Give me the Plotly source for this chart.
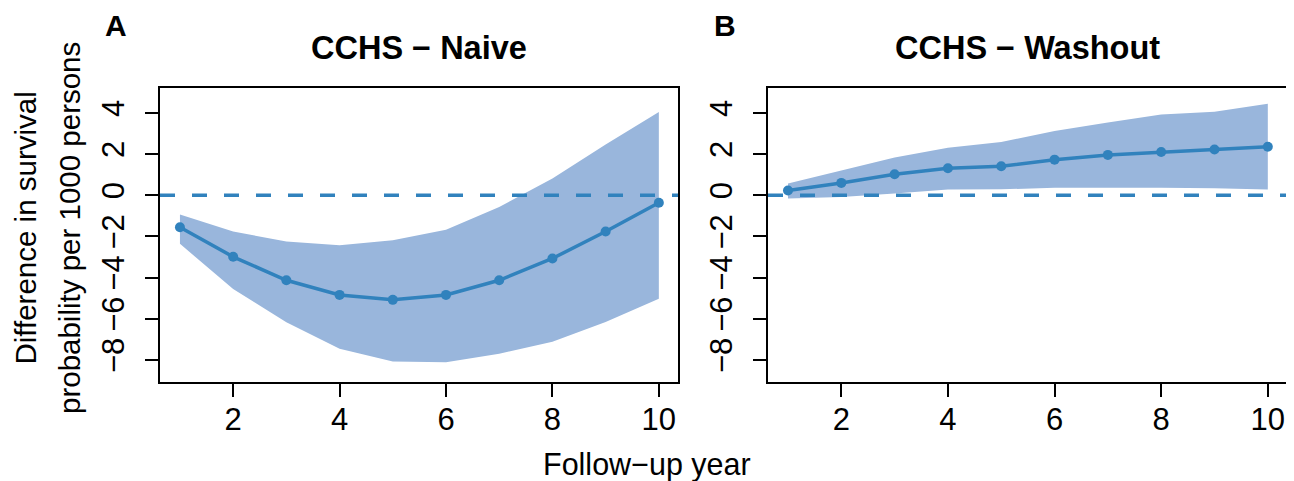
import plotly.graph_objects as go

years = [1, 2, 3, 4, 5, 6, 7, 8, 9, 10]

naive_est = [-1.55, -2.99, -4.13, -4.84, -5.08, -4.84, -4.13, -3.07, -1.76, -0.36]
naive_upper = [-0.94, -1.76, -2.25, -2.43, -2.18, -1.67, -0.57, 0.81, 2.46, 4.05]
naive_lower = [-2.36, -4.55, -6.17, -7.46, -8.07, -8.11, -7.70, -7.12, -6.15, -5.03]

wash_est = [0.23, 0.60, 1.02, 1.31, 1.41, 1.73, 1.96, 2.10, 2.22, 2.36]
wash_upper = [0.57, 1.20, 1.84, 2.31, 2.59, 3.12, 3.54, 3.92, 4.06, 4.45]
wash_lower = [-0.16, -0.08, 0.08, 0.28, 0.29, 0.36, 0.36, 0.36, 0.34, 0.28]

panel_titles = ["CCHS \u2212 Naive", "CCHS \u2212 Washout"]
panel_letters = ["A", "B"]
x_ticks = [2, 4, 6, 8, 10]
y_ticks = [-8, -6, -4, -2, 0, 2, 4]

OFF = 8  # page body margin
W, H = 1294 - OFF, 481 - OFF
LINE = "#3182BD"
BAND = "rgb(153,182,220)"
FONT = "Liberation Sans, Arial, Helvetica, sans-serif"

x_range = [0.625, 10.36]
y_range = [-9.07, 5.21]


def px_x(v):
    return (v - OFF) / W


def px_y(v):
    return 1 - (v - OFF) / H


panels = [
    (naive_est, naive_upper, naive_lower, "x", "y", [160, 678]),
    (wash_est, wash_upper, wash_lower, "x2", "y2", [768, 1287]),
]

fig = go.Figure()
for est, up, lo, xa, ya, px in panels:
    fig.add_trace(go.Scatter(
        x=years + years[::-1], y=up + lo[::-1], fill="toself", mode="none",
        fillcolor=BAND, xaxis=xa, yaxis=ya, showlegend=False, hoverinfo="skip"))
    fig.add_trace(go.Scatter(
        x=x_range, y=[0, 0], mode="lines",
        line=dict(color=LINE, width=3.5, dash="15px,17px"),
        xaxis=xa, yaxis=ya, showlegend=False, hoverinfo="skip"))
    fig.add_trace(go.Scatter(
        x=years, y=est, mode="lines+markers",
        line=dict(color=LINE, width=3.5), marker=dict(color=LINE, size=10),
        xaxis=xa, yaxis=ya, showlegend=False))

ydom = [px_y(382), px_y(88)]
axis_common = dict(showline=True, linecolor="black", linewidth=1.5, mirror=True,
                   ticks="outside", ticklen=13, tickwidth=1.5, tickcolor="black",
                   showgrid=False, zeroline=False,
                   tickfont=dict(family=FONT, size=31, color="black"))

layout = dict(
    width=W, height=H, margin=dict(l=0, r=0, t=0, b=0),
    plot_bgcolor="white", paper_bgcolor="white",
    font=dict(family=FONT, color="black"),
)
for i, (est, up, lo, xa, ya, px) in enumerate(panels):
    sfx = "" if i == 0 else "2"
    layout["xaxis" + sfx] = dict(axis_common, domain=[px_x(px[0]), px_x(px[1])],
                                 range=x_range, tickvals=x_ticks, anchor="y" + sfx,
                                 ticklabelstandoff=-4)
    layout["yaxis" + sfx] = dict(axis_common, domain=ydom, range=y_range,
                                 tickvals=y_ticks, tickangle=-90, anchor="x" + sfx,
                                 ticklabelstandoff=9)
fig.update_layout(**layout)

ann = []
for i, (est, up, lo, xa, ya, px) in enumerate(panels):
    cx = (px[0] + px[1]) / 2
    ann.append(dict(text="<b>%s</b>" % panel_titles[i], x=px_x(cx), y=px_y(48),
                    xref="paper", yref="paper", showarrow=False,
                    xanchor="center", yanchor="middle",
                    font=dict(family=FONT, size=32.5, color="black")))
letter_pos = [(116, 26), (725, 26)]
for i, (lx, ly) in enumerate(letter_pos):
    ann.append(dict(text="<b>%s</b>" % panel_letters[i], x=px_x(lx), y=px_y(ly),
                    xref="paper", yref="paper", showarrow=False,
                    xanchor="center", yanchor="middle",
                    font=dict(family=FONT, size=30, color="black")))
ann.append(dict(text="Follow\u2212up year", x=px_x(647), y=px_y(464),
                xref="paper", yref="paper", showarrow=False,
                xanchor="center", yanchor="middle",
                font=dict(family=FONT, size=30.5, color="black")))
ann.append(dict(text="Difference in survival", x=0, y=px_y(228),
                xref="paper", yref="paper", showarrow=False, textangle=-90,
                xanchor="left", yanchor="middle", borderpad=0,
                font=dict(family=FONT, size=29.5, color="black")))
ann.append(dict(text="probability per 1000 persons", x=px_x(70), y=px_y(228),
                xref="paper", yref="paper", showarrow=False, textangle=-90,
                xanchor="center", yanchor="middle",
                font=dict(family=FONT, size=29.5, color="black")))
fig.update_layout(annotations=ann)

fig.write_html("out.html")
